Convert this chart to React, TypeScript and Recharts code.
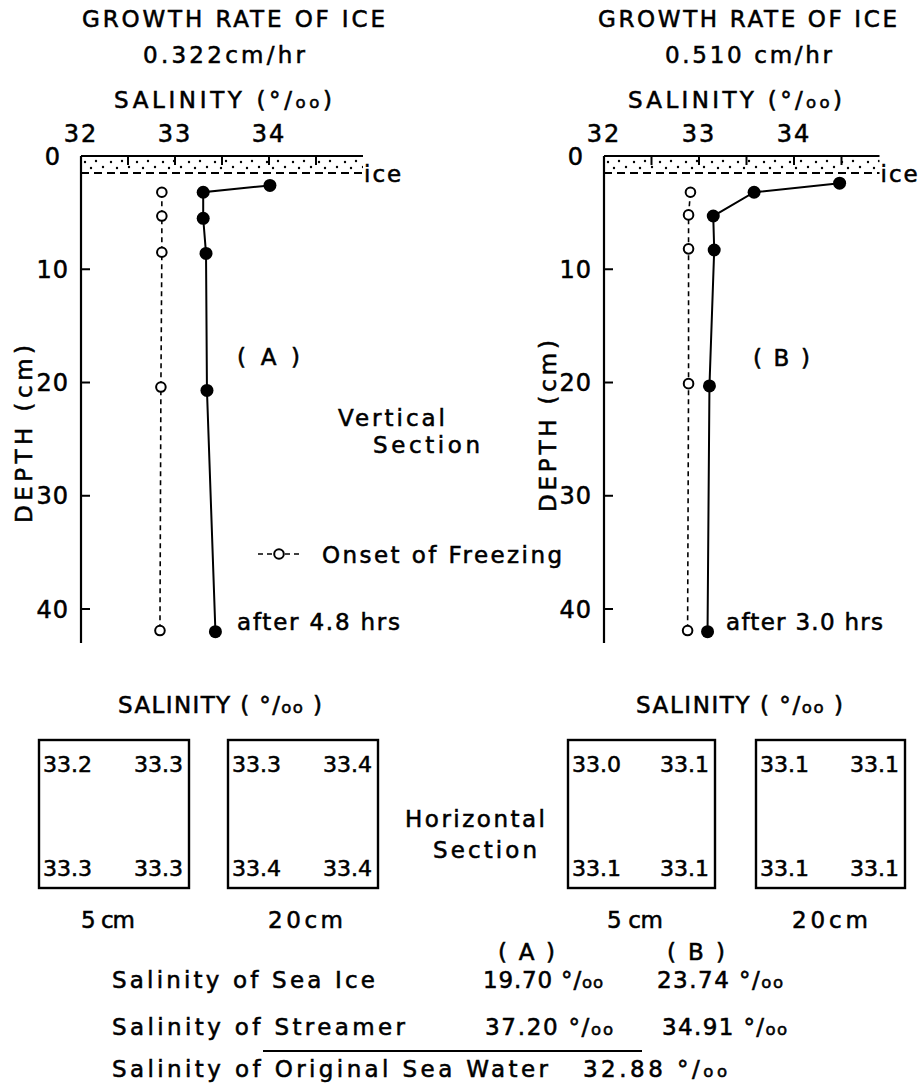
import React from 'react';
import { ScatterChart, Scatter, XAxis, YAxis, ReferenceArea, ReferenceLine } from 'recharts';

const FONT = '"DejaVu Sans", sans-serif';
const TEXT_STROKE = 0.55;

// ---- Vertical section, panel A (after 4.8 hrs) ----
const depthA = [2.6, 3.2, 5.5, 8.6, 20.7, 42.0];
const salinityA = [34.01, 33.3, 33.3, 33.33, 33.34, 33.43];
const onsetDepthA = [3.2, 5.3, 8.5, 20.4, 41.9];
const onsetSalinityA = [32.86, 32.86, 32.86, 32.85, 32.84];

// ---- Vertical section, panel B (after 3.0 hrs) ----
const depthB = [2.4, 3.2, 5.3, 8.3, 20.3, 42.0];
const salinityB = [34.48, 33.58, 33.15, 33.16, 33.11, 33.09];
const onsetDepthB = [3.2, 5.2, 8.2, 20.1, 41.9];
const onsetSalinityB = [32.91, 32.89, 32.89, 32.89, 32.88];

const depthTicks = [0, 10, 20, 30, 40];
const salinityTicks = [32, 32.5, 33, 33.5, 34, 34.5];
const ICE_DEPTH = 1.5;

const titleText = 'GROWTH RATE OF ICE';
const growthRates = ['0.322cm/hr', '0.510 cm/hr'];
const elapsedLabels = ['after 4.8 hrs', 'after 3.0 hrs'];
const panelNames = ['( A )', '( B )'];
const salinityAxisTitle = 'SALINITY (‰)';
const depthAxisTitle = 'DEPTH (cm)';

// ---- Horizontal section (values: top-left, top-right, bottom-left, bottom-right) ----
const boxA5 = ['33.2', '33.3', '33.3', '33.3'];
const boxA20 = ['33.3', '33.4', '33.4', '33.4'];
const boxB5 = ['33.0', '33.1', '33.1', '33.1'];
const boxB20 = ['33.1', '33.1', '33.1', '33.1'];
const boxDepthLabels = ['5 cm', '20cm'];

// ---- Summary ----
const summaryLabels = ['Salinity of Sea Ice', 'Salinity of Streamer', 'Salinity of Original Sea Water'];
const seaIceSalinity = ['19.70 ‰', '23.74 ‰'];
const streamerSalinity = ['37.20 ‰', '34.91 ‰'];
const originalSalinity = '32.88 ‰';

type Pt = { s: number; d: number };
const toPts = (depths: number[], sal: number[]): Pt[] => depths.map((d, i) => ({ d, s: sal[i] }));

// render "‰" as °/oo like the original lettering
const pm = (text: string) => {
  const parts = text.split('‰');
  const out: any[] = [];
  parts.forEach((p, i) => {
    out.push(<tspan key={'p' + i}>{p}</tspan>);
    if (i < parts.length - 1) {
      out.push(<tspan key={'d' + i}>°/</tspan>);
      out.push(<tspan key={'o' + i} fontSize="0.72em">oo</tspan>);
    }
  });
  return out;
};

const T = ({ x, y, w, size = 23, anchor = 'start', rotate = false, children }: any) => (
  <text
    x={x}
    y={y}
    fontSize={size}
    fontFamily={FONT}
    fill="#000"
    stroke="#000"
    strokeWidth={TEXT_STROKE}
    textAnchor={anchor}
    textLength={w}
    lengthAdjust="spacing"
    transform={rotate ? `rotate(-90 ${x} ${y})` : undefined}
  >
    {children}
  </text>
);

const XTick = (props: any) => {
  const { x, y, payload } = props;
  const v = payload.value;
  return (
    <g>
      {v !== 32 && <line x1={x} y1={y} x2={x} y2={y + 9} stroke="#000" strokeWidth={2} />}
      {Number.isInteger(v) && (
        <text x={x} y={y - 14} textAnchor="middle" fontSize={24} fontFamily={FONT} fill="#000" stroke="#000" strokeWidth={TEXT_STROKE} letterSpacing={2}>
          {v}
        </text>
      )}
    </g>
  );
};

const YTick = (props: any) => {
  const { x, y, payload } = props;
  const v = payload.value;
  return (
    <g>
      {v !== 0 && <line x1={x} y1={y} x2={x + 9} y2={y} stroke="#000" strokeWidth={2} />}
      <text x={x - (v === 0 ? 20 : 12)} y={y} dy="0.36em" textAnchor="end" fontSize={24} fontFamily={FONT} fill="#000" stroke="#000" strokeWidth={TEXT_STROKE} letterSpacing={1}>
        {v}
      </text>
    </g>
  );
};

const FilledDot = (p: any) => <circle cx={p.cx} cy={p.cy} r={6.5} fill="#000" />;
const OpenDot = (p: any) => <circle cx={p.cx} cy={p.cy} r={4.8} fill="#fff" stroke="#000" strokeWidth={2} />;

const makeIce = (id: string) => (p: any) => (
  <g>
    <defs>
      <pattern id={id} x={p.x} y={p.y} width={26} height={18} patternUnits="userSpaceOnUse">
        <circle cx={4} cy={6} r={1.2} fill="#000" />
        <circle cx={15} cy={5} r={1.2} fill="#000" />
        <circle cx={10} cy={12} r={1.2} fill="#000" />
        <circle cx={22} cy={11} r={1.2} fill="#000" />
      </pattern>
    </defs>
    <rect x={p.x} y={p.y} width={p.width} height={p.height} fill={`url(#${id})`} />
  </g>
);

const Profile = ({ main, onset, xMax, left, unit, id }: any) => {
  const plotW = (xMax - 32) * unit;
  const Y_W = 40;
  const X_H = 30;
  const TOP = 156;
  const BOTTOM = 643;
  return (
    <div style={{ position: 'absolute', left: 0, top: 0 }}>
      <ScatterChart
        width={922}
        height={660}
        margin={{ top: TOP - X_H, left: left - Y_W, right: 922 - left - plotW, bottom: 660 - BOTTOM }}
      >
        <XAxis
          type="number"
          dataKey="s"
          orientation="top"
          domain={[32, xMax]}
          ticks={salinityTicks}
          interval={0}
          tick={(p: any) => <XTick {...p} />}
          tickLine={false}
          tickSize={0}
          tickMargin={0}
          height={X_H}
          axisLine={{ stroke: '#000', strokeWidth: 2.2 }}
          allowDataOverflow
        />
        <YAxis
          type="number"
          dataKey="d"
          reversed
          domain={[0, 43]}
          ticks={depthTicks}
          interval={0}
          tick={(p: any) => <YTick {...p} />}
          tickLine={false}
          tickSize={0}
          tickMargin={0}
          width={Y_W}
          axisLine={{ stroke: '#000', strokeWidth: 2.2 }}
          allowDataOverflow
        />
        <ReferenceArea x1={32} x2={xMax} y1={0} y2={ICE_DEPTH} shape={makeIce(id)} ifOverflow="visible" />
        <ReferenceLine
          y={ICE_DEPTH}
          stroke="#000"
          strokeWidth={2}
          strokeDasharray="8 5"
          ifOverflow="visible"
          label={{
            content: (lp: any) => {
              const vb = lp.viewBox || {};
              return (
                <text x={(vb.x || 0) + (vb.width || 0) + 1} y={(vb.y || 0) + 9} fontSize={23} fontFamily={FONT} fill="#000" stroke="#000" strokeWidth={TEXT_STROKE} letterSpacing={2}>
                  ice
                </text>
              );
            },
          }}
        />
        <Scatter
          data={onset}
          line={{ stroke: '#000', strokeWidth: 1.6, strokeDasharray: '5 4' }}
          lineType="joint"
          shape={OpenDot}
          isAnimationActive={false}
        />
        <Scatter
          data={main}
          line={{ stroke: '#000', strokeWidth: 2 }}
          lineType="joint"
          shape={FilledDot}
          isAnimationActive={false}
        />
      </ScatterChart>
    </div>
  );
};

const Box = ({ x, vals }: any) => {
  const top = 740;
  const bottom = 888;
  const w = x[1] - x[0];
  return (
    <g>
      <rect x={x[0]} y={top} width={w} height={bottom - top} fill="none" stroke="#000" strokeWidth={2.4} />
      <T x={x[0] + 4} y={772} w={49} size={22}>{vals[0]}</T>
      <T x={x[1] - 6} y={772} w={49} size={22} anchor="end">{vals[1]}</T>
      <T x={x[0] + 4} y={876} w={49} size={22}>{vals[2]}</T>
      <T x={x[1] - 6} y={876} w={49} size={22} anchor="end">{vals[3]}</T>
    </g>
  );
};

const Overlay = () => (
  <svg width={922} height={1084} style={{ position: 'absolute', left: 0, top: 0, pointerEvents: 'none' }}>
    {/* titles */}
    <T x={82} y={27} w={303}>{titleText}</T>
    <T x={143} y={63} w={162}>{growthRates[0]}</T>
    <T x={114} y={108} w={218}>{pm(salinityAxisTitle)}</T>
    <T x={598} y={27} w={299}>{titleText}</T>
    <T x={665} y={63} w={167}>{growthRates[1]}</T>
    <T x={628} y={108} w={214}>{pm(salinityAxisTitle)}</T>

    {/* depth axis titles */}
    <T x={32} y={434} w={178} anchor="middle" rotate>{depthAxisTitle}</T>
    <T x={556} y={426} w={172} anchor="middle" rotate>{depthAxisTitle}</T>

    {/* panel annotations */}
    <T x={237} y={365} w={63}>{panelNames[0]}</T>
    <T x={753} y={366} w={57}>{panelNames[1]}</T>
    <T x={338} y={426} w={107}>Vertical</T>
    <T x={373} y={453} w={107}>Section</T>
    <T x={237} y={630} w={163}>{elapsedLabels[0]}</T>
    <T x={726} y={630} w={157}>{elapsedLabels[1]}</T>

    {/* legend */}
    <line x1={258} y1={554} x2={300} y2={554} stroke="#000" strokeWidth={1.6} strokeDasharray="5 4" />
    <circle cx={279} cy={554} r={4.8} fill="#fff" stroke="#000" strokeWidth={2} />
    <T x={322} y={563} w={240}>Onset of Freezing</T>

    {/* horizontal section */}
    <T x={118} y={713} w={204}>{pm('SALINITY ( ‰ )')}</T>
    <T x={636} y={713} w={207}>{pm('SALINITY ( ‰ )')}</T>
    <Box x={[39, 189]} vals={boxA5} />
    <Box x={[228, 378]} vals={boxA20} />
    <Box x={[568, 715]} vals={boxB5} />
    <Box x={[756, 905]} vals={boxB20} />
    <T x={405} y={827} w={140}>Horizontal</T>
    <T x={433} y={858} w={104}>Section</T>
    <T x={81} y={928} w={54}>{boxDepthLabels[0]}</T>
    <T x={268} y={928} w={75}>{boxDepthLabels[1]}</T>
    <T x={607} y={928} w={56}>{boxDepthLabels[0]}</T>
    <T x={792} y={928} w={76}>{boxDepthLabels[1]}</T>

    {/* summary */}
    <T x={498} y={960} w={57}>{panelNames[0]}</T>
    <T x={667} y={960} w={58}>{panelNames[1]}</T>
    <T x={112} y={988} w={263}>{summaryLabels[0]}</T>
    <T x={483} y={988} w={120}>{pm(seaIceSalinity[0])}</T>
    <T x={657} y={988} w={126}>{pm(seaIceSalinity[1])}</T>
    <T x={112} y={1035} w={293}>{summaryLabels[1]}</T>
    <T x={485} y={1035} w={128}>{pm(streamerSalinity[0])}</T>
    <T x={662} y={1035} w={125}>{pm(streamerSalinity[1])}</T>
    <line x1={263} y1={1051} x2={642} y2={1051} stroke="#000" strokeWidth={2} />
    <T x={112} y={1077} w={436}>{summaryLabels[2]}</T>
    <T x={583} y={1077} w={144}>{pm(originalSalinity)}</T>
  </svg>
);

export default function App() {
  return (
    <div style={{ position: 'absolute', left: 0, top: 0, width: 922, height: 1084, background: '#fff', overflow: 'hidden' }}>
      <Profile main={toPts(depthA, salinityA)} onset={toPts(onsetDepthA, onsetSalinityA)} xMax={35} left={81} unit={94} id="iceA" />
      <Profile main={toPts(depthB, salinityB)} onset={toPts(onsetDepthB, onsetSalinityB)} xMax={34.9} left={604} unit={95} id="iceB" />
      <Overlay />
    </div>
  );
}
